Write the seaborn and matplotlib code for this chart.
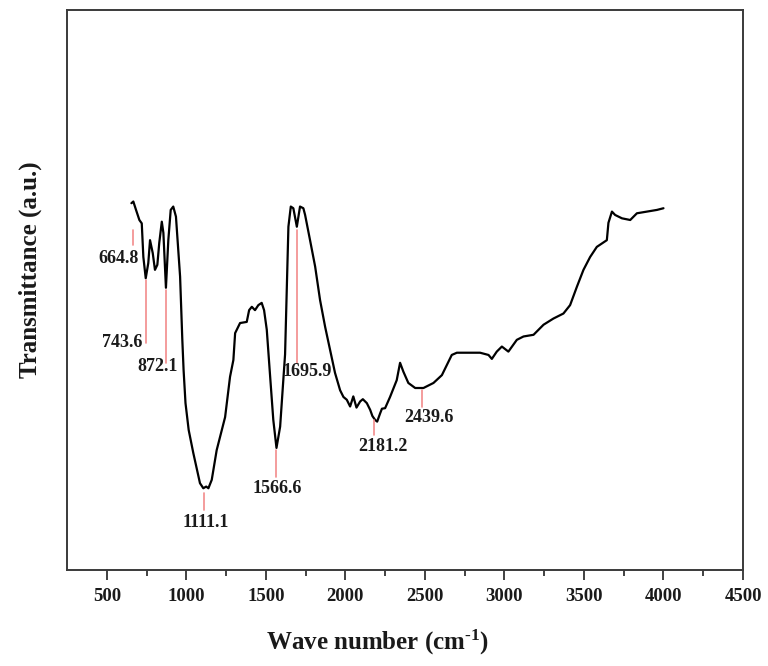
import matplotlib
matplotlib.use("Agg")
import matplotlib.pyplot as plt
import seaborn as sns
import pandas as pd

# ---- data (wavenumber, transmittance a.u.) ----
wavenumber = [655, 667, 684, 705, 720, 730, 745, 761, 772, 789, 803, 818, 830, 846, 856,
              872, 887, 902, 918, 935, 961, 975, 983, 995, 1015, 1044, 1086, 1107, 1125,
              1139, 1160, 1191, 1244, 1275, 1296, 1307, 1338, 1380, 1395, 1412, 1432, 1453,
              1474, 1489, 1506, 1527, 1547, 1567, 1590, 1607, 1621, 1642, 1657, 1673, 1695,
              1715, 1736, 1747, 1778, 1810, 1841, 1873, 1904, 1935, 1967, 1988, 2009, 2030,
              2050, 2070, 2093, 2110, 2135, 2156, 2170, 2187, 2200, 2219, 2230, 2250, 2281,
              2323, 2344, 2365, 2396, 2439, 2491, 2554, 2607, 2669, 2701, 2785, 2847, 2900,
              2921, 2952, 2984, 3025, 3078, 3120, 3183, 3246, 3308, 3371, 3413, 3456, 3497,
              3539, 3581, 3644, 3654, 3676, 3696, 3739, 3791, 3833, 3896, 3959, 4000]
transmittance = [65.5, 65.8, 64.3, 62.5, 61.9, 55.9, 52.1, 54.8, 58.9, 56.6, 53.6, 54.5, 58.4,
                 62.2, 60.2, 50.4, 58.9, 64.3, 64.9, 63.1, 52.4, 41.1, 35.7, 29.8, 25.0, 20.9,
                 15.5, 14.6, 14.9, 14.6, 16.1, 21.4, 27.3, 34.5, 37.5, 42.3, 44.1, 44.3, 46.4,
                 47.0, 46.4, 47.3, 47.7, 46.4, 42.9, 34.6, 26.8, 21.8, 25.6, 32.7, 38.5, 61.3,
                 64.9, 64.6, 61.3, 64.9, 64.6, 63.4, 58.9, 54.2, 48.2, 43.4, 39.3, 35.2, 32.1,
                 30.9, 30.4, 29.2, 31.0, 29.0, 30.1, 30.5, 29.8, 28.6, 27.5, 26.8, 26.5, 28.0,
                 28.8, 28.9, 30.9, 33.9, 37.0, 35.4, 33.4, 32.5, 32.5, 33.4, 34.8, 38.4, 38.8,
                 38.8, 38.8, 38.4, 37.7, 39.0, 39.9, 39.0, 41.1, 41.7, 42.0, 43.8, 44.9, 45.8,
                 47.3, 50.6, 53.6, 55.9, 57.7, 58.9, 62.0, 64.0, 63.4, 62.8, 62.5, 63.7, 64.0,
                 64.3, 64.6]

peak_labels = ["664.8", "743.6", "872.1", "1111.1", "1566.6", "1695.9", "2181.2", "2439.6"]
peak_marker_x = [664.8, 743.6, 872.1, 1111.1, 1566.6, 1695.9, 2181.2, 2482.0]

# annotation geometry (data coords)
line_top = [60.7, 51.8, 50.0, 13.75, 21.4, 60.7, 26.8, 32.1]
line_bottom = [58.0, 40.5, 36.9, 10.7, 16.6, 37.0, 24.1, 29.1]
text_x = [703, 722, 819, 1125, 1571, 1759, 2237, 2523]
text_y = [55.7, 40.6, 36.4, 8.4, 14.6, 35.4, 22.0, 27.3]
text_ha = ["right", "right", "center", "center", "center", "center", "center", "center"]

df = pd.DataFrame({"Wave number": wavenumber, "Transmittance": transmittance})

sns.set_style("white")
plt.rcParams["font.family"] = ["Liberation Serif", "DejaVu Serif"]
plt.rcParams["font.weight"] = "bold"
plt.rcParams["mathtext.fontset"] = "custom"
plt.rcParams["mathtext.rm"] = "Liberation Serif:bold"
plt.rcParams["mathtext.it"] = "Liberation Serif:bold"
plt.rcParams["mathtext.bf"] = "Liberation Serif:bold"

fig = plt.figure(figsize=(7.68, 6.66), dpi=100)
ax = fig.add_axes([67 / 768, 1 - 570 / 666, 676 / 768, 560 / 666])

sns.lineplot(data=df, x="Wave number", y="Transmittance", ax=ax, sort=False,
             color="black", linewidth=1.6, estimator=None)

for lab, px, yt, yb, tx, ty, ha in zip(peak_labels, peak_marker_x, line_top, line_bottom,
                                        text_x, text_y, text_ha):
    ax.plot([px, px], [yt, yb], color="#f28b8b", linewidth=1.2)
    ax.text(tx, ty, lab, ha=ha, va="center", fontsize=13, fontweight="bold",
            color="#1a1a1a")

ax.set_xlim(250, 4500)
ax.set_ylim(0, 100)
ax.set_xticks([500, 1000, 1500, 2000, 2500, 3000, 3500, 4000, 4500])
ax.set_xticks([750, 1250, 1750, 2250, 2750, 3250, 3750, 4250], minor=True)
ax.set_yticks([])
ax.tick_params(axis="x", which="major", direction="out", length=7, width=1.3,
               labelsize=13.5, colors="#333333", labelcolor="#1a1a1a", bottom=True, pad=6)
ax.tick_params(axis="x", which="minor", direction="out", length=4.5, width=1.3,
               colors="#333333", bottom=True)
for lab in ax.get_xticklabels():
    lab.set_fontweight("bold")

for sp in ax.spines.values():
    sp.set_color("#3a3a3a")
    sp.set_linewidth(1.4)

ax.set_xlabel(r"Wave number (cm$^{\text{-1}}$)", fontsize=18, fontweight="bold",
              color="#1a1a1a")
ax.set_ylabel("Transmittance (a.u.)", fontsize=18, fontweight="bold", color="#1a1a1a")
ax.xaxis.set_label_coords(0.459, -0.103)
ax.yaxis.set_label_coords(-0.037, 0.536)

fig.savefig("out.png", dpi=100)
